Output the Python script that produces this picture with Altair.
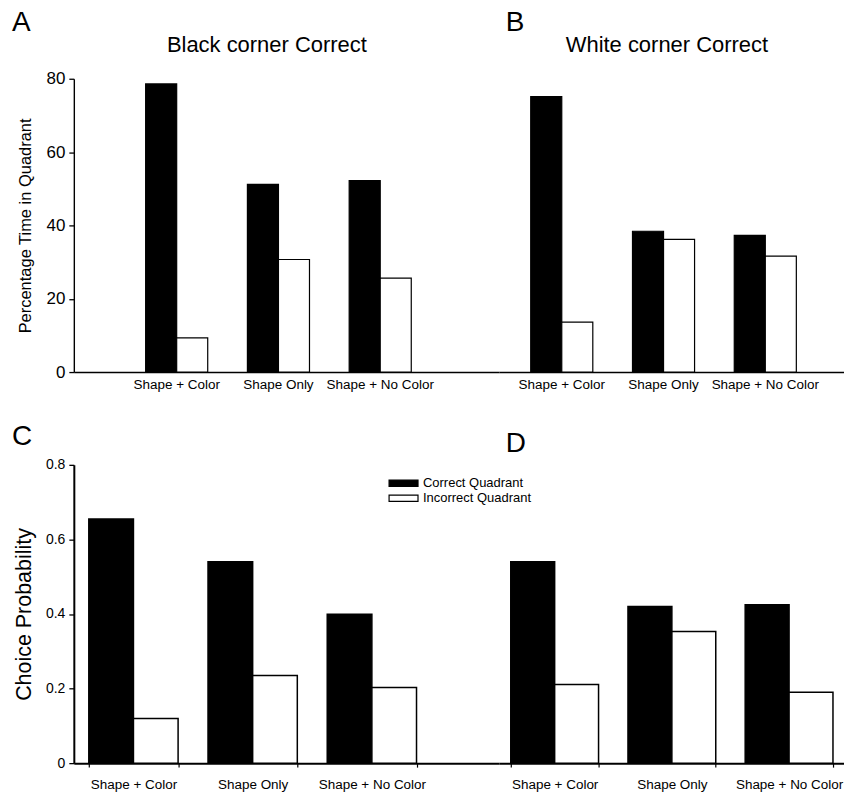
import altair as alt
import pandas as pd

conditions = ["Shape + Color", "Shape Only", "Shape + No Color"]
quadrants = ["Correct Quadrant", "Incorrect Quadrant"]

a_correct = [78.6, 51.2, 52.2]
a_incorrect = [9.3, 30.7, 25.6]
b_correct = [75.1, 38.4, 37.3]
b_incorrect = [13.6, 36.2, 31.6]
c_correct = [0.655, 0.540, 0.399]
c_incorrect = [0.120, 0.235, 0.203]
d_correct = [0.540, 0.420, 0.425]
d_incorrect = [0.211, 0.353, 0.190]

pct_ticks = [0, 20, 40, 60, 80]
prob_ticks = [0, 0.2, 0.4, 0.6, 0.8]

FONT = "Liberation Sans"


def make_df(correct, incorrect):
    return pd.DataFrame({
        "condition": conditions * 2,
        "quadrant": [quadrants[0]] * 3 + [quadrants[1]] * 3,
        "value": list(correct) + list(incorrect),
    })


FILL_SCALE = dict(domain=quadrants, range=["#000000", "#ffffff"])


def bars(df, ymax, yaxis, xscale, xaxis, legend=None, bar_stroke=1.2):
    return alt.Chart(df).mark_bar(stroke="black", strokeWidth=bar_stroke).encode(
        x=alt.X("condition:N", sort=conditions, scale=xscale, axis=xaxis, title=None),
        xOffset=alt.XOffset("quadrant:N", sort=quadrants),
        y=alt.Y("value:Q", scale=alt.Scale(domain=[0, ymax], nice=False, zero=True), axis=yaxis),
        fill=alt.Fill("quadrant:N", sort=quadrants, scale=alt.Scale(**FILL_SCALE), legend=legend),
    )


def letter(text, dx, offset):
    return alt.TitleParams(text, anchor="start", frame="group", fontSize=28, fontWeight="normal",
                           dx=dx, offset=offset)


# ---------- top row (A, B) ----------
top_h = 294
a_w, b_w = 426, 346
a_xscale = alt.Scale(paddingInner=0.39, paddingOuter=0.783, align=0.4506)
b_xscale = alt.Scale(paddingInner=0.39, paddingOuter=0.391, align=0.401)
top_xaxis = alt.Axis(labelAngle=0, ticks=False, tickSize=0, labelFontSize=13.5, labelPadding=5,
                     domainWidth=1.4, title=None)
pct_axis = alt.Axis(values=pct_ticks, title="Percentage Time in Quadrant", grid=False,
                    tickSize=5, labelFontSize=17, titleFontSize=16.5, titleFontWeight="normal",
                    titlePadding=13, labelPadding=4, domainWidth=1.4, tickWidth=1.3)


def header_axis(text, center):
    return alt.Axis(orient="top", labels=False, ticks=False, domain=False, title=text,
                    titleFontSize=22, titleFontWeight="normal", titlePadding=22.5, titleX=center,
                    titleAlign="center")


def top_panel(df, yaxis, xscale, width, header, center, letter_title):
    main = bars(df, 80, yaxis, xscale, top_xaxis)
    head = alt.Chart(df).mark_bar(opacity=0).encode(
        x=alt.X("condition:N", sort=conditions, scale=xscale, axis=header_axis(header, center)),
        xOffset=alt.XOffset("quadrant:N", sort=quadrants),
        y=alt.Y("value:Q", axis=None),
    )
    return alt.layer(main, head).resolve_axis(x="independent", y="independent").properties(
        width=width, height=top_h, title=letter_title)


panel_a = top_panel(make_df(a_correct, a_incorrect), pct_axis, a_xscale, a_w,
                    "Black corner Correct", 193, letter("A", -62, -3.5))
panel_b = top_panel(make_df(b_correct, b_incorrect), None, b_xscale, b_w,
                    "White corner Correct", 168, letter("B", 7, -3.5))

# ---------- bottom row (C, D) ----------
bot_h = 299
c_xscale = alt.Scale(paddingInner=0.251, paddingOuter=0.408, align=0.154)
d_xscale = alt.Scale(paddingInner=0.251, paddingOuter=0.098, align=0.52)
bot_xaxis = alt.Axis(labelAngle=0, tickBand="extent", tickSize=4, labelFontSize=13.5,
                     labelPadding=10, domainWidth=2, tickWidth=1.2, title=None)
prob_axis = alt.Axis(values=prob_ticks, format=".1~f", title="Choice Probability", grid=False,
                     tickSize=5, labelFontSize=14, titleFontSize=21.5, titleFontWeight="normal",
                     titlePadding=10, labelPadding=4, domainWidth=2, tickWidth=1.3)

legend_c = alt.Legend(
    title=None, orient="none", legendX=323, legendY=11,
    symbolType="M-2.25,-0.5H2.25V0.5H-2.25Z", symbolSize=166,
    symbolStrokeColor="black", symbolStrokeWidth=1.2,
    labelFontSize=13, labelOffset=12, rowPadding=0,
)

panel_c = bars(make_df(c_correct, c_incorrect), 0.8, prob_axis, c_xscale, bot_xaxis,
               legend=legend_c, bar_stroke=1.5).properties(
    width=426, height=bot_h, title=letter("C", -62, 7))
panel_d = bars(make_df(d_correct, d_incorrect), 0.8, None, d_xscale, bot_xaxis,
               bar_stroke=1.5).properties(
    width=346, height=bot_h, title=letter("D", 7, 7))

chart = alt.concat(
    panel_a, panel_b, panel_c, panel_d,
    columns=2, spacing=alt.RowColnumber(row=93, column=0), bounds="flush",
).resolve_scale(xOffset="independent", fill="independent").properties(
    padding={"left": 12, "top": 8, "right": 0, "bottom": 0}
).configure(font=FONT).configure_view(stroke=None).configure_axis(
    labelColor="black", titleColor="black", domainColor="black", tickColor="black",
    labelFont=FONT, titleFont=FONT
).configure_title(color="black", font=FONT).configure_legend(labelColor="black", labelFont=FONT)

chart.save("out.html", embed_options={"renderer": "svg", "actions": False})
